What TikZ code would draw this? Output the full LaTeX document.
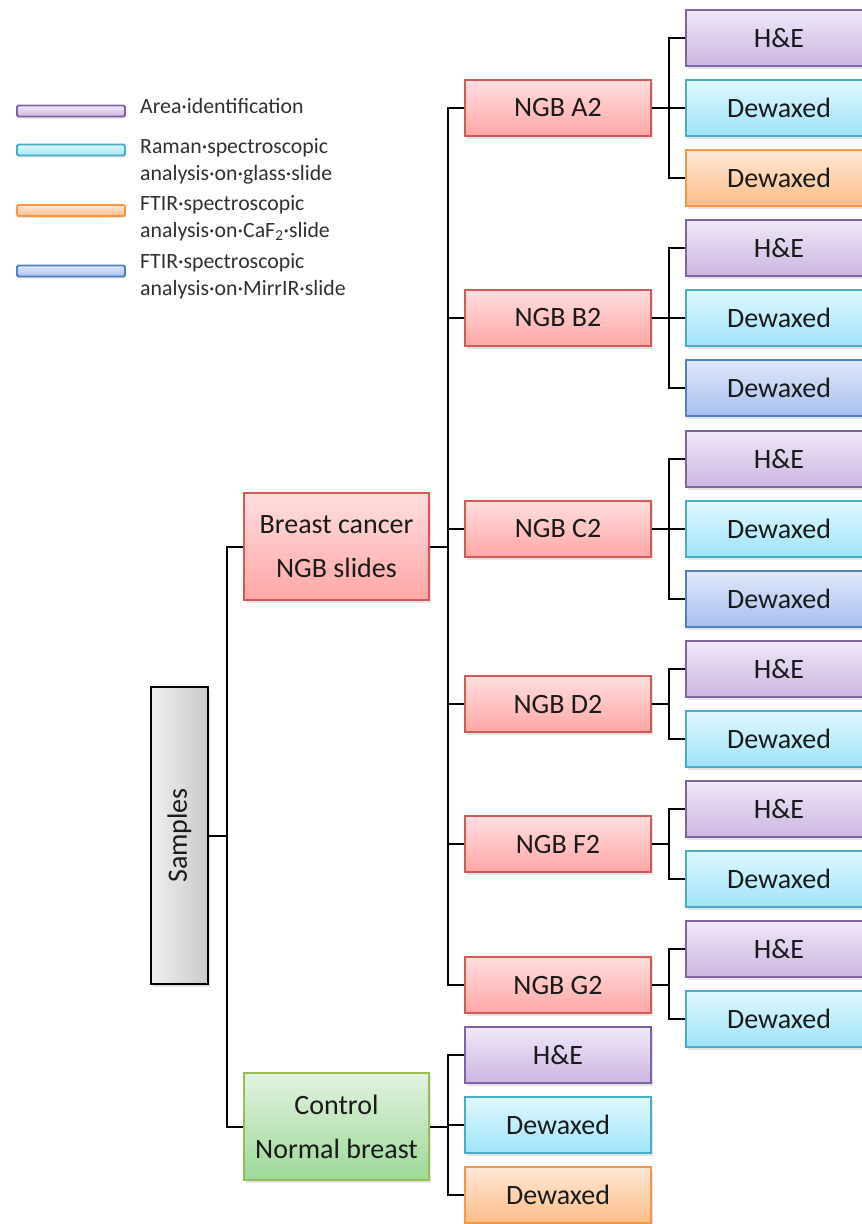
\documentclass[tikz,border=0pt]{standalone}
\usepackage{fontspec}
\setmainfont{Carlito}
\usetikzlibrary{shadows}
\definecolor{redT}{HTML}{FFDEDE}\definecolor{redB}{HTML}{FFA6A6}\definecolor{redD}{HTML}{CF5A57}
\definecolor{purT}{HTML}{F0E8F8}\definecolor{purB}{HTML}{CCB6E2}\definecolor{purD}{HTML}{8064A2}
\definecolor{cyaT}{HTML}{E0F8FF}\definecolor{cyaB}{HTML}{9FE3F8}\definecolor{cyaD}{HTML}{4BACC6}
\definecolor{oraT}{HTML}{FFE8D6}\definecolor{oraB}{HTML}{FCBC88}\definecolor{oraD}{HTML}{F79646}
\definecolor{bluT}{HTML}{E0E8FA}\definecolor{bluB}{HTML}{A8BFF0}\definecolor{bluD}{HTML}{4F81BD}
\definecolor{grnT}{HTML}{E2F2DF}\definecolor{grnB}{HTML}{9CD998}\definecolor{grnD}{HTML}{9BBB59}
\definecolor{txt}{HTML}{1A1A1A}
\tikzset{
  basebox/.style={line width=1.8pt, inner sep=0pt, text=txt,
    font=\fontsize{28}{44}\selectfont, align=center,
    drop shadow={opacity=0.22, shadow xshift=2pt, shadow yshift=-3pt}},
  ngb/.style={basebox, draw=redD, top color=redT, bottom color=redB, minimum width=186pt, minimum height=56pt},
  big/.style={basebox, minimum width=185pt, minimum height=107pt},
  leaf/.style={basebox, minimum width=186pt, minimum height=56pt},
  he/.style={leaf, draw=purD, top color=purT, bottom color=purB},
  raman/.style={leaf, draw=cyaD, top color=cyaT, bottom color=cyaB},
  caf/.style={leaf, draw=oraD, top color=oraT, bottom color=oraB},
  mirr/.style={leaf, draw=bluD, top color=bluT, bottom color=bluB},
  legbar/.style={line width=1.8pt, minimum width=108pt, minimum height=11pt, inner sep=0pt,
    rounded corners=1.5pt, drop shadow={opacity=0.2, shadow xshift=1pt, shadow yshift=-2pt}},
  legtext/.style={anchor=west, align=left, inner sep=0pt, text=txt!90,
    font=\fontsize{21.8}{27}\selectfont},
  conn/.style={line width=2pt, black},
}
\begin{document}
\begin{tikzpicture}[x=1pt,y=-1pt]
\path[use as bounding box] (0,0) rectangle (862,1224);
\clip (0,0) rectangle (862,1224);
\fill[white] (0,0) rectangle (862,1224);

% legend
\node[legbar, draw=purD, top color=purT, bottom color=purB] (lg1) at (71,111) {};
\node[legbar, draw=cyaD, top color=cyaT, bottom color=cyaB] (lg2) at (71,150) {};
\node[legbar, draw=oraD, top color=oraT, bottom color=oraB] (lg3) at (71,210.5) {};
\node[legbar, draw=bluD, top color=bluT, bottom color=bluB] (lg4) at (71,271) {};
\node[legtext] (lt1) at (140,106) {Area·identification};
\node[legtext] (lt2) at (140,161.5) {Raman·spectroscopic\\analysis·on·glass·slide};
\node[legtext] (lt3) at (140,218.5) {FTIR·spectroscopic\\analysis·on·CaF\textsubscript{2}·slide};
\node[legtext] (lt4) at (140,276.5) {FTIR·spectroscopic\\analysis·on·MirrIR·slide};

% samples
\node[basebox, draw=black, left color=gray!12, right color=gray!42,
      minimum width=57pt, minimum height=297pt] (samples) at (179.5,835.5) {};
\node[rotate=90, font=\fontsize{28}{30}\selectfont, text=txt] (samplestxt) at (samples.center) {Samples};

% level 1
\node[big, draw=redD, top color=redT, bottom color=redB] (bc) at (336.5,546.5) {Breast cancer\\NGB slides};
\node[big, draw=grnD, top color=grnT, bottom color=grnB] (ctrl) at (336.5,1126.5) {Control\\Normal breast};

% NGB
\node[ngb] (a2) at (558,108) {NGB A2};
\node[ngb] (b2) at (558,318) {NGB B2};
\node[ngb] (c2) at (558,529) {NGB C2};
\node[ngb] (d2) at (558,704) {NGB D2};
\node[ngb] (f2) at (558,844) {NGB F2};
\node[ngb] (g2) at (558,985) {NGB G2};

% leaves
\node[he]    (a2he) at (779,38)  {H\&E};
\node[raman] (a2r)  at (779,108) {Dewaxed};
\node[caf]   (a2c)  at (779,178) {Dewaxed};
\node[he]    (b2he) at (779,248) {H\&E};
\node[raman] (b2r)  at (779,318) {Dewaxed};
\node[mirr]  (b2m)  at (779,388) {Dewaxed};
\node[he]    (c2he) at (779,459) {H\&E};
\node[raman] (c2r)  at (779,529) {Dewaxed};
\node[mirr]  (c2m)  at (779,599) {Dewaxed};
\node[he]    (d2he) at (779,669) {H\&E};
\node[raman] (d2r)  at (779,739) {Dewaxed};
\node[he]    (f2he) at (779,809) {H\&E};
\node[raman] (f2r)  at (779,879) {Dewaxed};
\node[he]    (g2he) at (779,949) {H\&E};
\node[raman] (g2r)  at (779,1019) {Dewaxed};
\node[he]    (chc)  at (558,1055) {H\&E};
\node[raman] (crc)  at (558,1125) {Dewaxed};
\node[caf]   (ccc)  at (558,1195) {Dewaxed};

% connectors
\foreach \t in {bc,ctrl} \draw[conn] (samples.east) -- ++(18,0) |- (\t.west);
\foreach \t in {a2,b2,c2,d2,f2,g2} \draw[conn] (bc.east) -- ++(18,0) |- (\t.west);
\foreach \t in {chc,crc,ccc} \draw[conn] (ctrl.east) -- ++(18,0) |- (\t.west);
\foreach \t in {a2he,a2r,a2c} \draw[conn] (a2.east) -- ++(17,0) |- (\t.west);
\foreach \t in {b2he,b2r,b2m} \draw[conn] (b2.east) -- ++(17,0) |- (\t.west);
\foreach \t in {c2he,c2r,c2m} \draw[conn] (c2.east) -- ++(17,0) |- (\t.west);
\foreach \t in {d2he,d2r} \draw[conn] (d2.east) -- ++(17,0) |- (\t.west);
\foreach \t in {f2he,f2r} \draw[conn] (f2.east) -- ++(17,0) |- (\t.west);
\foreach \t in {g2he,g2r} \draw[conn] (g2.east) -- ++(17,0) |- (\t.west);
\end{tikzpicture}
\end{document}
